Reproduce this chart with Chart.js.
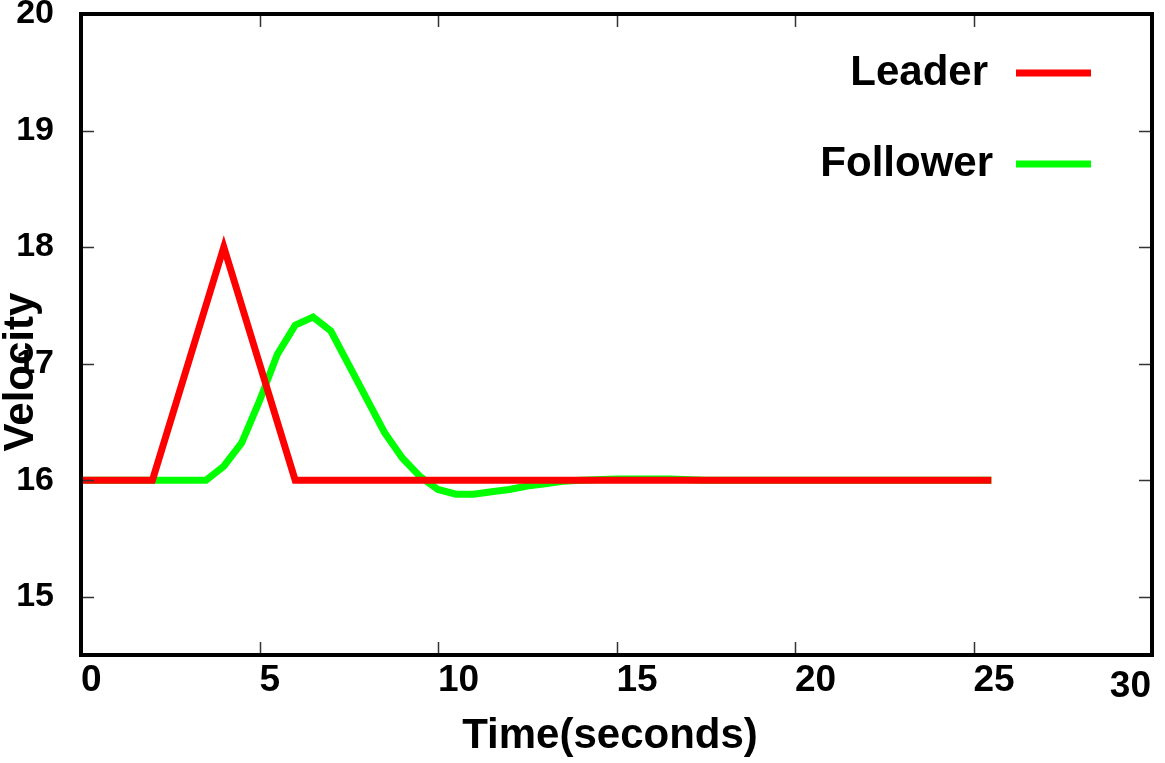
<!DOCTYPE html>
<html lang="en">
<head>
    <meta charset="UTF-8">
    <title>Leader / Follower Velocity</title>
    <script src="https://cdn.jsdelivr.net/npm/chart.js"></script>
    <style>
        html, body { margin: 0; padding: 0; background: #fff; }
        #wrap { width: 1165px; height: 763px; }
    </style>
</head>
<body>
    <div id="wrap">
        <canvas id="velocityChart" width="1165" height="763"></canvas>
    </div>

    <script>
        // values
        const leaderTime = [0, 2, 4, 6, 25.5];
        const leaderVelocity = [16, 16, 18, 16, 16];

        const followerTime = [0, 2, 3.5, 4, 4.5, 5, 5.5, 6, 6.5, 7, 7.5, 8, 8.5, 9, 9.5, 10, 10.5, 11, 11.5, 12, 12.5, 13, 13.5, 14, 15, 16.5, 17.5, 25.5];
        const followerVelocity = [16, 16, 16, 16.12, 16.32, 16.68, 17.08, 17.33, 17.4, 17.28, 16.99, 16.7, 16.41, 16.19, 16.03, 15.92, 15.88, 15.88, 15.9, 15.92, 15.95, 15.97, 15.99, 16.0, 16.01, 16.01, 16.0, 16.0];

        const xTicks = [0, 5, 10, 15, 20, 25, 30];
        const yTicks = [15, 16, 17, 18, 19, 20];

        const seriesNames = ['Leader', 'Follower'];
        const seriesColors = ['#ff0000', '#00ff00'];

        const FONT = '"Liberation Sans", Arial, Helvetica, sans-serif';
        const NARROW = '"Liberation Sans Narrow", "Liberation Sans", Arial, sans-serif';

        const toPoints = (xs, ys) => xs.map((x, i) => ({ x: x, y: ys[i] }));

        // gnuplot-like frame, inward mirror ticks, legend, axis titles and the odd "30" label
        const gnuplotLook = {
            id: 'gnuplotLook',
            afterDatasetsDraw(chart) {
                const ctx = chart.ctx;
                const area = chart.chartArea;
                const xs = chart.scales.x;
                const ys = chart.scales.y;

                ctx.save();
                // inner ticks
                ctx.strokeStyle = '#333';
                ctx.lineWidth = 1.5;
                ctx.beginPath();
                xTicks.slice(1, -1).forEach(v => {
                    const px = Math.round(xs.getPixelForValue(v)) + 0.5;
                    ctx.moveTo(px, area.bottom); ctx.lineTo(px, area.bottom - 13);
                    ctx.moveTo(px, area.top); ctx.lineTo(px, area.top + 13);
                });
                yTicks.slice(0, -1).forEach(v => {
                    const py = Math.round(ys.getPixelForValue(v)) + 0.5;
                    ctx.moveTo(area.left, py); ctx.lineTo(area.left + 13, py);
                    ctx.moveTo(area.right, py); ctx.lineTo(area.right - 13, py);
                });
                ctx.stroke();

                // frame
                ctx.strokeStyle = '#000';
                ctx.lineWidth = 4;
                ctx.strokeRect(area.left, area.top, area.right - area.left, area.bottom - area.top);

                // legend (text left, sample right)
                ctx.font = 'bold 42px ' + FONT;
                ctx.textAlign = 'right';
                ctx.textBaseline = 'middle';
                ctx.fillStyle = '#000';
                const rows = [{ y: 73, tx: 988 }, { y: 164, tx: 993 }];
                chart.data.datasets.forEach((ds, i) => {
                    const r = rows[i];
                    ctx.fillText(ds.label, r.tx, r.y);
                    ctx.strokeStyle = ds.borderColor;
                    ctx.lineWidth = 7;
                    ctx.beginPath();
                    ctx.moveTo(1016, r.y);
                    ctx.lineTo(1091, r.y);
                    ctx.stroke();
                });

                // x axis title, slightly left of centre
                ctx.textAlign = 'center';
                ctx.fillText('Time(seconds)', 610, 736);

                // y axis title, sits lower than centre and over the tick labels
                ctx.save();
                ctx.translate(21, 372);
                ctx.rotate(-Math.PI / 2);
                ctx.fillText('Velocity', 0, 0);
                ctx.restore();

                // last x label is right-justified and a bit lower
                ctx.font = 'bold 37px ' + NARROW;
                ctx.textAlign = 'right';
                const last = xTicks[xTicks.length - 1];
                ctx.fillText(String(last), xs.getPixelForValue(last) - 1, 687);
                ctx.restore();
            }
        };

        new Chart(document.getElementById('velocityChart'), {
            type: 'line',
            data: {
                datasets: [
                    {
                        label: seriesNames[0],
                        data: toPoints(leaderTime, leaderVelocity),
                        borderColor: seriesColors[0],
                        backgroundColor: seriesColors[0],
                        borderWidth: 7,
                        borderJoinStyle: 'miter',
                        pointRadius: 0,
                        tension: 0
                    },
                    {
                        label: seriesNames[1],
                        data: toPoints(followerTime, followerVelocity),
                        borderColor: seriesColors[1],
                        backgroundColor: seriesColors[1],
                        borderWidth: 7,
                        borderJoinStyle: 'miter',
                        pointRadius: 0,
                        tension: 0
                    }
                ]
            },
            options: {
                responsive: false,
                animation: false,
                layout: { padding: { top: 14, right: 13, left: 0, bottom: 0 } },
                plugins: {
                    legend: { display: false },
                    tooltip: { enabled: false }
                },
                scales: {
                    x: {
                        type: 'linear',
                        min: 0,
                        max: 30,
                        grid: { display: false },
                        border: { display: false },
                        afterBuildTicks: s => { s.ticks = xTicks.map(v => ({ value: v })); },
                        afterFit: s => {
                            s.height = 108;
                            s.paddingLeft = 0;
                            s.paddingRight = 0;
                        },
                        ticks: {
                            align: 'start',
                            padding: -4,
                            color: '#000',
                            font: { family: NARROW, size: 37, weight: 'bold' },
                            callback: v => (v === xTicks[xTicks.length - 1] ? '' : String(v))
                        }
                    },
                    y: {
                        type: 'linear',
                        min: 14.5,
                        max: 20,
                        grid: { display: false },
                        border: { display: false },
                        afterBuildTicks: s => { s.ticks = yTicks.map(v => ({ value: v })); },
                        afterFit: s => {
                            s.width = 81;
                            s.paddingTop = 0;
                            s.paddingBottom = 0;
                        },
                        ticks: {
                            padding: 19,
                            color: '#000',
                            font: { family: FONT, size: 34, weight: 'bold' }
                        }
                    }
                }
            },
            plugins: [gnuplotLook]
        });
    </script>
</body>
</html>
